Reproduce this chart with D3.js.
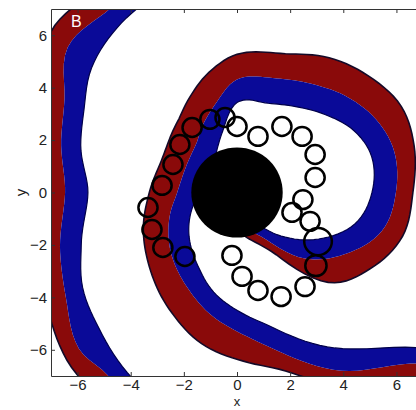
<!DOCTYPE html>
<html>
<head>
<meta charset="utf-8">
<script src="https://cdn.jsdelivr.net/npm/d3@7"></script>
<style>
body { margin: 0; background: #fff; }
text { font-family: "Liberation Sans", Arial, sans-serif; }
</style>
</head>
<body>
<div id="chartDiv"></div>
<script>

// spiral arm, sampled along the unwrapped polar angle (deg) round the obstacle
var spiralTheta = [-85,-60,-45,-30,-15,0,15,28,42,56,71,90,103,116,130,155,180,200,221,242,257,274,285,300,315,325,340,380,420,460,484,499,511,523,540,559,572,585,595,615];
var blueInner  = [0.9,1.3,2.35,3.55,4.6,5.08,5.25,5.0,4.45,3.95,3.6,3.43,2.4,1.75,1.4,1.3,1.4,1.8,2.4,3.15,3.9,4.69,5.35,6.8,8.35,10.0,10.8,11.0,10.4,8.5,7.79,7.25,6.58,6.15,5.61,6.2,6.85,7.34,7.82,8.8];
var redBlue    = [1.2,2.0,3.55,4.7,5.65,5.98,6.12,5.93,5.5,5.0,4.6,4.31,3.5,2.9,2.4,2.15,2.25,2.7,3.33,4.05,4.72,5.51,6.3,7.85,9.22,11.2,11.8,12.0,11.3,9.3,8.49,8.44,7.42,6.92,6.47,7.04,7.59,8.42,8.5,9.6];
var redOuter   = [1.5,2.6,4.85,5.8,6.45,6.62,6.9,7.0,6.65,6.2,5.6,5.27,4.7,4.05,3.5,3.1,3.3,3.75,4.36,5.21,5.92,6.51,7.05,8.55,9.95,12.4,12.8,13.0,12.2,10.2,9.4,9.3,8.3,7.8,7.4,7.9,8.4,9.05,9.4,10.5];

// centres of the loops of the tip trajectory
var loopX = [-0.45,-1.02,-1.69,-2.15,-2.41,-2.82,-3.35,-3.2,-2.79,-1.96,0,0.79,1.69,2.45,2.94,2.94,2.48,2.07,2.75,3.05,2.97,2.56,1.66,0.79,0.19,-0.19];
var loopY = [2.86,2.79,2.48,1.83,1.07,0.27,-0.57,-1.41,-2.1,-2.44,2.52,2.14,2.52,2.14,1.45,0.57,-0.27,-0.76,-1.1,-1.87,-2.79,-3.59,-3.97,-3.74,-3.2,-2.4];
var loopR = [0.36,0.36,0.36,0.36,0.36,0.36,0.36,0.36,0.36,0.36,0.36,0.36,0.36,0.36,0.36,0.36,0.36,0.36,0.36,0.52,0.4,0.36,0.36,0.36,0.36,0.36];

var discR = 1.72;
var ticks = [-6, -4, -2, 0, 2, 4, 6];

var svg = d3.select("#chartDiv").append("svg")
    .attr("width", 416)
    .attr("height", 410);

var x_scale = d3.scaleLinear().domain([-7, 7]).range([51, 423]);
var y_scale = d3.scaleLinear().domain([-7, 7]).range([376, 9]);

svg.append("clipPath").attr("id", "plotClip")
  .append("rect")
    .attr("x", 51).attr("y", 9)
    .attr("width", 372).attr("height", 367);

var plot = svg.append("g").attr("clip-path", "url(#plotClip)");

// smooth r(theta) through the samples (cubic hermite), then to x/y
function edge(radii) {
  var n = spiralTheta.length, pts = [];
  function slope(i) {
    var a = Math.max(i - 1, 0), b = Math.min(i + 1, n - 1);
    return (radii[b] - radii[a]) / (spiralTheta[b] - spiralTheta[a]);
  }
  for (var i = 0; i < n - 1; i++) {
    var t0 = spiralTheta[i], h = spiralTheta[i + 1] - t0,
        m0 = slope(i), m1 = slope(i + 1),
        steps = Math.ceil(h / 2);
    for (var s = 0; s < steps; s++) {
      var u = s / steps, u2 = u * u, u3 = u2 * u;
      var r = (2*u3 - 3*u2 + 1) * radii[i] + (u3 - 2*u2 + u) * h * m0 +
              (-2*u3 + 3*u2) * radii[i + 1] + (u3 - u2) * h * m1;
      var a = (t0 + u * h) * Math.PI / 180;
      pts.push([r * Math.cos(a), r * Math.sin(a)]);
    }
  }
  var aEnd = spiralTheta[n - 1] * Math.PI / 180;
  pts.push([radii[n - 1] * Math.cos(aEnd), radii[n - 1] * Math.sin(aEnd)]);
  return pts;
}

var line = d3.line()
    .x(function(d) { return x_scale(d[0]); })
    .y(function(d) { return y_scale(d[1]); });

function band(outer, inner) {
  return line(edge(outer)) + line(edge(inner).reverse()).replace(/^M/, "L") + "Z";
}

plot.append("path").attr("d", band(redOuter, redBlue)).attr("fill", "#8a0a0a");
plot.append("path").attr("d", band(redBlue, blueInner)).attr("fill", "#0a0a98");
plot.append("path").attr("d", line(edge(redOuter)))
    .attr("fill", "none").attr("stroke", "#140a28").attr("stroke-width", 1.6);
plot.append("path").attr("d", line(edge(blueInner)))
    .attr("fill", "none").attr("stroke", "#00004a").attr("stroke-width", 1.2);

// obstacle
plot.append("ellipse")
    .attr("cx", x_scale(0)).attr("cy", y_scale(0))
    .attr("rx", x_scale(discR) - x_scale(0))
    .attr("ry", y_scale(0) - y_scale(discR))
    .attr("fill", "#000");

// trajectory loops
plot.selectAll(".loop").data(loopX).enter()
  .append("ellipse").attr("class", "loop")
    .attr("cx", function(d) { return x_scale(d); })
    .attr("cy", function(d, i) { return y_scale(loopY[i]); })
    .attr("rx", function(d, i) { return x_scale(loopR[i]) - x_scale(0); })
    .attr("ry", function(d, i) { return y_scale(0) - y_scale(loopR[i]); })
    .attr("fill", "none")
    .attr("stroke", "#000")
    .attr("stroke-width", 2.5);

// axes, MATLAB style box with inward ticks
var xAxis = d3.axisBottom(x_scale).tickValues(ticks).tickSize(-4).tickSizeOuter(0).tickPadding(3);
var yAxis = d3.axisLeft(y_scale).tickValues(ticks).tickSize(-4).tickSizeOuter(0).tickPadding(4);
var xTop = d3.axisTop(x_scale).tickValues(ticks).tickSize(-4).tickSizeOuter(0).tickFormat("");

var gx = svg.append("g").attr("transform", "translate(0,376)").call(xAxis);
var gy = svg.append("g").attr("transform", "translate(51,0)").call(yAxis);
var gt = svg.append("g").attr("transform", "translate(0,9)").call(xTop);

[gx, gy, gt].forEach(function(g) {
  g.select(".domain").attr("stroke", "#333");
  g.selectAll(".tick line").attr("stroke", "#333");
  g.selectAll("text").attr("font-size", 15).attr("fill", "#222")
    .style("font-family", "'Liberation Sans', Arial, sans-serif");
});

svg.append("text")
    .attr("x", x_scale(0)).attr("y", 406)
    .attr("text-anchor", "middle").attr("font-size", 13).attr("fill", "#222")
    .text("x");

svg.append("text")
    .attr("transform", "translate(26," + y_scale(0) + ") rotate(-90)")
    .attr("text-anchor", "middle").attr("font-size", 15).attr("fill", "#222")
    .text("y");

svg.append("text")
    .attr("x", 71).attr("y", 27)
    .attr("font-size", 16).attr("fill", "#fff")
    .text("B");

</script>
</body>
</html>
